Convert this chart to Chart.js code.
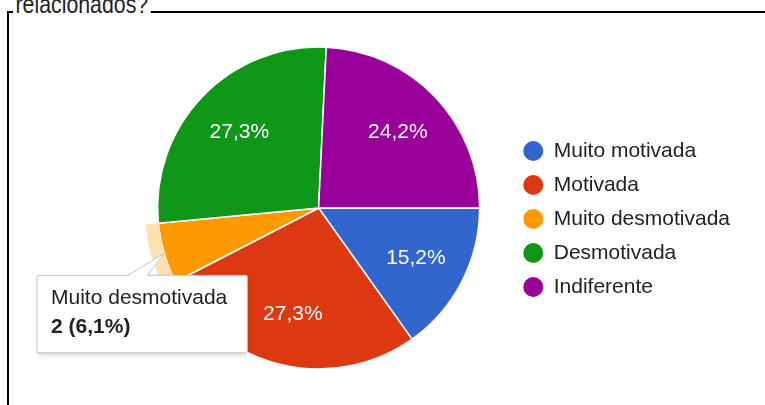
<!DOCTYPE html>
<html>
<head>
<meta charset="utf-8">
<script src="https://cdn.jsdelivr.net/npm/chart.js@4.4.1/dist/chart.umd.min.js"></script>
<style>
  body { margin: 0; background: #fff; overflow: hidden; }
  #wrap { position: relative; width: 765px; height: 405px; overflow: hidden; }
  #frame { position: absolute; left: 7px; top: 11px; width: 820px; height: 460px; border: 2px solid #000; }
  #question {
    position: absolute; left: 13px; top: -9px;
    font: 26px/26px 'Liberation Sans', Arial, sans-serif; color: #222;
    background: #fff; padding: 0 3px; white-space: nowrap;
    transform: scaleX(0.82); transform-origin: 0 0;
  }
  #chartBox { position: absolute; left: 0; top: 0; width: 765px; height: 405px; }
</style>
</head>
<body>
<div id="wrap">
  <div id="frame"></div>
  <span id="question">relacionados?</span>
  <div id="chartBox"><canvas id="pieChart"></canvas></div>
</div>
<script>
// answers and how many people picked each one
const answerLabels = ['Muito motivada', 'Motivada', 'Muito desmotivada', 'Desmotivada', 'Indiferente'];
const answerCounts = [5, 9, 2, 9, 8];
const sliceColors = ['#3366cc', '#dc3912', '#ff9900', '#109618', '#990099'];
const highlightColor = '#ffe0b2';
const highlightedIndex = 2; // slice with the hover tooltip

const FONT = "'Liberation Sans', Arial, sans-serif";
const total = answerCounts.reduce((a, b) => a + b, 0);

function formatPct(share) {
    return (share * 100).toFixed(1).replace('.', ',') + '%';
}

// point on the outer edge of a slice, in the middle of its angle
function edgePoint(arc) {
    const {x, y, startAngle, endAngle, outerRadius} = arc.getProps(['x', 'y', 'startAngle', 'endAngle', 'outerRadius'], true);
    const mid = (startAngle + endAngle) / 2;
    return { x: x + Math.cos(mid) * outerRadius, y: y + Math.sin(mid) * outerRadius };
}

Chart.Tooltip.positioners.sliceEdge = function(items) {
    if (!items.length) return false;
    const p = edgePoint(items[0].element);
    return { x: p.x - 22, y: p.y };
};

// percentage text inside the bigger slices
const sliceTextPlugin = {
    id: 'sliceText',
    afterDatasetsDraw(chart) {
        const meta = chart.getDatasetMeta(1);
        const ctx = chart.ctx;
        ctx.save();
        ctx.fillStyle = '#fff';
        ctx.font = '21px ' + FONT;
        ctx.textAlign = 'center';
        ctx.textBaseline = 'middle';
        meta.data.forEach((arc, i) => {
            const share = answerCounts[i] / total;
            if (share < 0.1) return;
            const {x, y, startAngle, endAngle, outerRadius} = arc.getProps(['x', 'y', 'startAngle', 'endAngle', 'outerRadius'], true);
            const mid = (startAngle + endAngle) / 2;
            const r = outerRadius * 0.68;
            ctx.fillText(formatPct(share), x + Math.cos(mid) * r, y + Math.sin(mid) * r);
        });
        ctx.restore();
    }
};

// push the legend column down a bit, like the original
const legendShiftPlugin = {
    id: 'legendShift',
    afterLayout(chart) {
        chart.legend.top += 11;
        chart.legend.bottom += 11;
    }
};

// soft shadow behind the tooltip box and the skewed tail
const tooltipDecorPlugin = {
    id: 'tooltipDecor',
    beforeTooltipDraw(chart, args) {
        const tip = args.tooltip;
        const ctx = chart.ctx;
        ctx.save();
        ctx.shadowColor = 'rgba(0,0,0,0.18)';
        ctx.shadowBlur = 5;
        ctx.shadowOffsetX = 1;
        ctx.shadowOffsetY = 2;
        ctx.fillStyle = '#fff';
        ctx.fillRect(tip.x, tip.y, tip.width, tip.height);
        ctx.restore();
    },
    afterDraw(chart) {
        const tip = chart.tooltip;
        if (!tip || !tip.getActiveElements().length || !tip.opacity) return;
        const p = edgePoint(tip.getActiveElements()[0].element);
        const ctx = chart.ctx;
        const b1 = tip.x + 90, b2 = tip.x + 110;
        ctx.save();
        ctx.beginPath();
        ctx.moveTo(b1, tip.y + 1.5);
        ctx.lineTo(p.x, p.y);
        ctx.lineTo(b2, tip.y + 1.5);
        ctx.closePath();
        ctx.fillStyle = '#fff';
        ctx.fill();
        ctx.beginPath();
        ctx.moveTo(b1, tip.y + 0.5);
        ctx.lineTo(p.x, p.y);
        ctx.lineTo(b2, tip.y + 0.5);
        ctx.strokeStyle = '#c4c4c4';
        ctx.lineWidth = 1;
        ctx.stroke();
        ctx.restore();
    }
};

const ringColors = answerCounts.map((_, i) => i === highlightedIndex ? highlightColor : 'rgba(0,0,0,0)');

const ctx = document.getElementById('pieChart').getContext('2d');
const pieChart = new Chart(ctx, {
    type: 'pie',
    data: {
        labels: answerLabels,
        datasets: [
            {
                // highlight ring around the hovered slice
                data: answerCounts,
                backgroundColor: ringColors,
                borderWidth: 0,
                weight: 13
            },
            {
                data: answerCounts,
                backgroundColor: sliceColors,
                borderColor: '#ffffff',
                borderWidth: 1.5,
                weight: 161
            }
        ]
    },
    options: {
        responsive: true,
        maintainAspectRatio: false,
        animation: false,
        events: [],
        rotation: 90,
        radius: 174,
        layout: {
            padding: { left: 127, right: 25, top: 33, bottom: 22 }
        },
        plugins: {
            legend: {
                position: 'right',
                align: 'center',
                labels: {
                    usePointStyle: true,
                    pointStyle: 'circle',
                    boxHeight: 14,
                    pointStyleWidth: 20,
                    padding: 13,
                    color: '#222',
                    font: { family: FONT, size: 21 },
                    generateLabels() {
                        return answerLabels.map((text, i) => ({
                            text,
                            fillStyle: sliceColors[i],
                            strokeStyle: sliceColors[i],
                            lineWidth: 0,
                            pointStyle: 'circle',
                            fontColor: '#222',
                            hidden: false,
                            index: i
                        }));
                    }
                }
            },
            tooltip: {
                position: 'sliceEdge',
                xAlign: 'center',
                yAlign: 'top',
                caretSize: 0,
                caretPadding: 22,
                backgroundColor: '#fff',
                borderColor: '#c4c4c4',
                borderWidth: 1,
                cornerRadius: 2,
                displayColors: false,
                padding: { left: 14, right: 20, top: 10, bottom: 13 },
                titleColor: '#222',
                bodyColor: '#222',
                titleFont: { family: FONT, size: 21, weight: 'normal', lineHeight: 1.2 },
                bodyFont: { family: FONT, size: 21, weight: 'bold', lineHeight: 1.2 },
                titleMarginBottom: 4,
                callbacks: {
                    title: items => answerLabels[items[0].dataIndex],
                    label: item => answerCounts[item.dataIndex] + ' (' + formatPct(answerCounts[item.dataIndex] / total) + ')'
                }
            }
        }
    },
    plugins: [sliceTextPlugin, legendShiftPlugin, tooltipDecorPlugin]
});

// show the tooltip on the highlighted slice
pieChart.tooltip.setActiveElements([{ datasetIndex: 1, index: highlightedIndex }], { x: 0, y: 0 });
pieChart.update();
</script>
</body>
</html>
